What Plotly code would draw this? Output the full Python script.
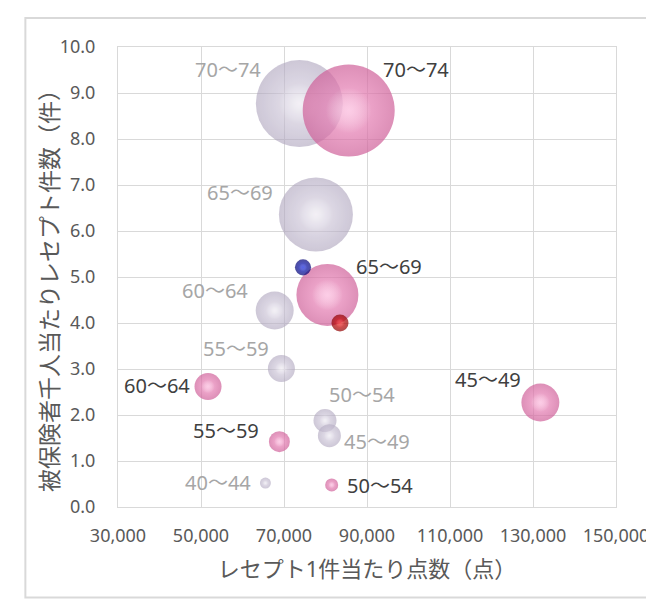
import plotly.graph_objects as go

# ---------------- data ----------------
gray_labels = ["70～74", "65～69", "60～64", "55～59", "50～54", "45～49", "40～44"]
gray_x = [73700, 77690, 67760, 69370, 79880, 80940, 65520]
gray_y = [8.77, 6.36, 4.27, 3.01, 1.88, 1.55, 0.52]
gray_size = [75.7, 54.8, 14.4, 7.3, 5.3, 5.3, 1.2]

pink_labels = ["70～74", "65～69", "60～64", "55～59", "50～54", "45～49"]
pink_x = [85590, 80460, 51690, 68890, 81490, 131780]
pink_y = [8.62, 4.61, 2.62, 1.42, 0.48, 2.27]
pink_size = [84.6, 38.4, 7.3, 4.4, 1.7, 14.4]

blue_x = [74580]
blue_y = [5.21]
blue_size = [2.6]

red_x = [83490]
red_y = [4.00]
red_size = [2.9]

x_ticks = [30000, 50000, 70000, 90000, 110000, 130000, 150000]
x_ticktext = ["30,000", "50,000", "70,000", "90,000", "110,000", "130,000", "150,000"]
y_ticks = [0, 1, 2, 3, 4, 5, 6, 7, 8, 9, 10]
y_ticktext = ["0.0", "1.0", "2.0", "3.0", "4.0", "5.0", "6.0", "7.0", "8.0", "9.0", "10.0"]

x_title = "レセプト1件当たり点数（点）"
y_title = "被保険者千人当たりレセプト件数（件）"

# ---------------- styles ----------------
MAX_DIAM = 92
all_sizes = gray_size + pink_size + blue_size + red_size
SIZEREF = 2.0 * max(all_sizes) / (MAX_DIAM ** 2)
HL = 0.5  # highlight diameter factor

FONT = "Noto Sans, Noto Sans CJK JP, sans-serif"

# label offsets (pixels): xanchor, xshift, yshift
gray_lab_style = [("right", -36, 34), ("right", -41, 22), ("right", -25, 20), ("right", -10, 20),
                  ("left", 2, 26), ("left", 13, -6), ("right", -12, 1)]
pink_lab_style = [("left", 32, 41), ("left", 27, 28), ("right", -16, 1), ("right", -18, 11),
                  ("left", 13, -1), ("right", -17, 23)]

fig = go.Figure()


def sphere(x, y, s, edge, center, hl_center, opacity=1.0):
    fig.add_trace(go.Scatter(
        x=x, y=y, mode="markers", hoverinfo="skip", showlegend=False, opacity=opacity,
        marker=dict(size=s, sizemode="area", sizeref=SIZEREF, color=edge,
                    line=dict(width=0),
                    gradient=dict(type="radial", color=center))))
    fig.add_trace(go.Scatter(
        x=x, y=y, mode="markers", hoverinfo="skip", showlegend=False, opacity=opacity,
        marker=dict(size=s, sizemode="area", sizeref=SIZEREF / (HL ** 2),
                    color="rgba(255,255,255,0)", line=dict(width=0),
                    gradient=dict(type="radial", color=hl_center))))


sphere(gray_x, gray_y, gray_size, "#ACA2BC", "#DAD3E4", "rgba(255,255,255,0.8)", 0.85)
sphere(pink_x, pink_y, pink_size, "#CE5F98", "#F693C6", "rgba(255,225,242,0.8)")
sphere(blue_x, blue_y, blue_size, "#000070", "#0010D0", "rgba(90,110,255,0.5)")
sphere(red_x, red_y, red_size, "#8A0000", "#F00000", "rgba(255,120,120,0.5)")

annotations = []
for lab, x, y, (xa, dx, dy) in zip(gray_labels, gray_x, gray_y, gray_lab_style):
    annotations.append(dict(x=x, y=y, xref="x", yref="y", text=lab, showarrow=False,
                            xanchor=xa, yanchor="middle", xshift=dx, yshift=dy,
                            font=dict(family=FONT, size=20, color="#A6A6A6")))
for lab, x, y, (xa, dx, dy) in zip(pink_labels, pink_x, pink_y, pink_lab_style):
    annotations.append(dict(x=x, y=y, xref="x", yref="y", text=lab, showarrow=False,
                            xanchor=xa, yanchor="middle", xshift=dx, yshift=dy,
                            font=dict(family=FONT, size=20, color="#404040")))
# y-axis title as a rotated annotation
annotations.append(dict(x=-0.137, y=0.482, xref="paper", yref="paper", text=y_title,
                        showarrow=False, textangle=-90, xanchor="center", yanchor="middle",
                        font=dict(family=FONT, size=23, color="#595959")))

fig.update_layout(
    width=646, height=600,
    margin=dict(l=118, r=30, t=47, b=93, autoexpand=False),
    paper_bgcolor="white", plot_bgcolor="white",
    font=dict(family=FONT, color="#595959"),
    annotations=annotations,
    shapes=[dict(type="rect", xref="paper", yref="paper",
                 x0=-0.186, x1=1.07, y0=-0.197, y1=1.063,
                 line=dict(color="#D9D9D9", width=2), layer="below")],
    xaxis=dict(range=[30000, 150000], tickvals=x_ticks, ticktext=x_ticktext,
               showgrid=True, gridcolor="#D9D9D9", gridwidth=1,
               showline=True, linecolor="#D9D9D9", mirror=True, zeroline=False,
               ticks="", ticklabelstandoff=12, ticklabeloverflow="allow", automargin=False,
               tickfont=dict(family=FONT, size=18, color="#595959"),
               title=dict(text=x_title, standoff=16,
                          font=dict(family=FONT, size=22, color="#595959"))),
    yaxis=dict(range=[0, 10], tickvals=y_ticks, ticktext=y_ticktext,
               showgrid=True, gridcolor="#D9D9D9", gridwidth=1,
               showline=True, linecolor="#D9D9D9", mirror=True, zeroline=False,
               ticks="", ticklabelstandoff=18, ticklabeloverflow="allow", automargin=False,
               tickfont=dict(family=FONT, size=18, color="#595959")),
)

fig.write_html("out.html", config={"displayModeBar": False},
               post_script="document.body.style.margin='0px';")
